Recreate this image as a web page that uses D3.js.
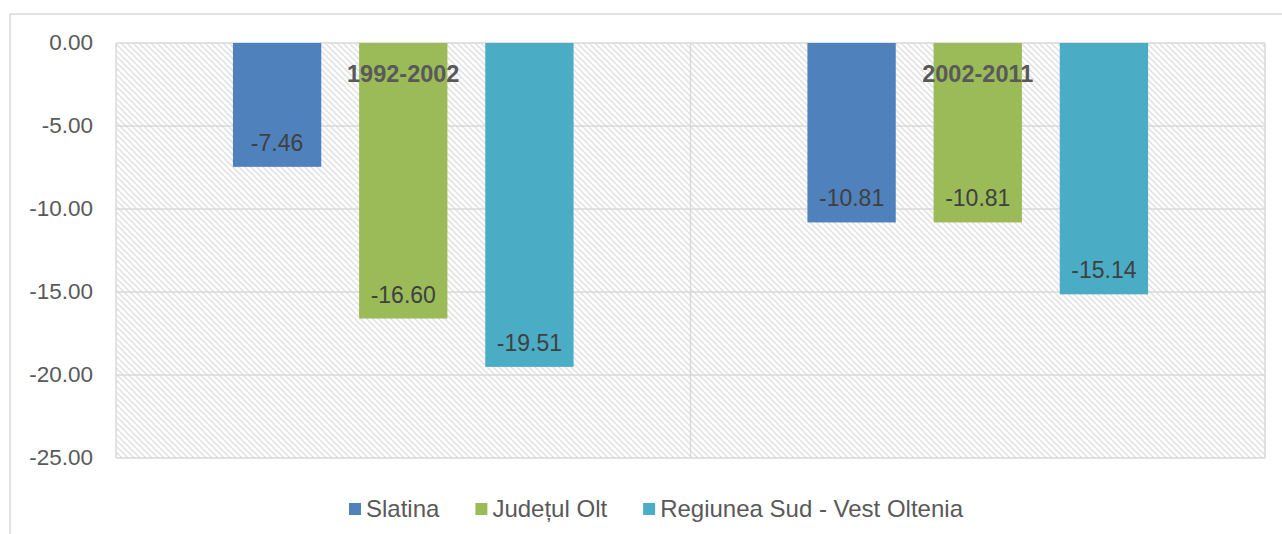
<!DOCTYPE html>
<html>
<head>
<meta charset="utf-8">
<script src="https://cdn.jsdelivr.net/npm/d3@7"></script>
<style>
  body { margin: 0; background: #fff; }
  text { font-family: "Liberation Sans", Arial, sans-serif; }
</style>
</head>
<body>
<div id="chart"></div>
<script>
var width = 1282,
    height = 534;

// datos
var periods = ["1992-2002", "2002-2011"];
var series = ["Slatina", "Județul Olt", "Regiunea Sud - Vest Oltenia"];
var slatina = [-7.46, -10.81];
var judet = [-16.60, -10.81];
var regiune = [-19.51, -15.14];
var yTicks = [0, -5, -10, -15, -20, -25];
var colors = ["#4f81bd", "#9bbb59", "#4bacc6"];

var values = [slatina, judet, regiune];

var plot = { left: 116, right: 1265, top: 43, bottom: 458 };

var svg = d3.select("#chart").append("svg")
    .attr("width", width)
    .attr("height", height);

// patron rayado de fondo
var defs = svg.append("defs");
var pat = defs.append("pattern")
    .attr("id", "hatch")
    .attr("patternUnits", "userSpaceOnUse")
    .attr("width", 6).attr("height", 6);
pat.append("rect").attr("width", 6).attr("height", 6).attr("fill", "#fff");
pat.append("path")
    .attr("d", "M-1,-1L7,7M-4,2L1,7M5,-1L7,1")
    .attr("stroke", "#e0e0e0")
    .attr("stroke-width", 1.5);

// marco exterior
svg.append("rect")
    .attr("x", 10).attr("y", 14)
    .attr("width", 1290).attr("height", 540)
    .attr("fill", "none")
    .attr("stroke", "#d9d9d9")
    .attr("stroke-width", 1.5);

var x0 = d3.scaleBand()
    .domain(periods)
    .range([plot.left, plot.right]);

var x1 = d3.scaleBand()
    .domain(series)
    .range([98, x0.bandwidth() - 98])
    .paddingInner(0.3)
    .paddingOuter(0.15);

var y = d3.scaleLinear()
    .domain([0, -25])
    .range([plot.top, plot.bottom]);

// fondo del area
svg.append("rect")
    .attr("x", plot.left).attr("y", plot.top)
    .attr("width", plot.right - plot.left)
    .attr("height", plot.bottom - plot.top)
    .attr("fill", "url(#hatch)");

// lineas de grilla
svg.append("g")
    .selectAll("line")
    .data(yTicks)
    .enter().append("line")
    .attr("x1", plot.left).attr("x2", plot.right)
    .attr("y1", d => y(d)).attr("y2", d => y(d))
    .attr("stroke", "#d9d9d9")
    .attr("stroke-width", 1.5);

// divisores verticales
svg.append("g")
    .selectAll("line")
    .data(periods.concat(["end"]))
    .enter().append("line")
    .attr("x1", (d, i) => i < periods.length ? x0(d) : plot.right)
    .attr("x2", (d, i) => i < periods.length ? x0(d) : plot.right)
    .attr("y1", plot.top).attr("y2", plot.bottom)
    .attr("stroke", "#d9d9d9")
    .attr("stroke-width", 1.5);

// eje y
var yAxis = svg.append("g")
    .attr("transform", "translate(" + plot.left + ",0)")
    .call(d3.axisLeft(y).tickValues(yTicks).tickSize(0).tickPadding(23)
        .tickFormat(d => d.toFixed(2)));
yAxis.select(".domain").remove();
yAxis.selectAll("text")
    .attr("fill", "#595959")
    .attr("font-family", null)
    .attr("font-size", null)
    .style("font-size", "22.5px")
    .attr("dy", "0.3em");
yAxis.attr("font-size", null).attr("font-family", null);

// barras
var groups = svg.append("g")
    .selectAll("g")
    .data(periods)
    .enter().append("g")
    .attr("transform", d => "translate(" + x0(d) + ",0)");

groups.selectAll("rect")
    .data((p, pi) => series.map((s, si) => ({ s: s, si: si, v: values[si][pi] })))
    .enter().append("rect")
    .attr("x", d => x1(d.s))
    .attr("width", x1.bandwidth())
    .attr("y", y(0))
    .attr("height", d => y(d.v) - y(0))
    .attr("fill", d => colors[d.si]);

// etiquetas de valores
groups.selectAll("text.val")
    .data((p, pi) => series.map((s, si) => ({ s: s, si: si, v: values[si][pi] })))
    .enter().append("text")
    .attr("class", "val")
    .attr("x", d => x1(d.s) + x1.bandwidth() / 2)
    .attr("y", d => y(d.v) - 16)
    .attr("text-anchor", "middle")
    .attr("fill", "#404040")
    .style("font-size", "23px")
    .text(d => d.v.toFixed(2));

// etiquetas de categoria
groups.append("text")
    .attr("x", x0.bandwidth() / 2)
    .attr("y", 82)
    .attr("text-anchor", "middle")
    .attr("fill", "#595959")
    .style("font-size", "23.5px")
    .style("font-weight", "bold")
    .text(d => d);

// leyenda
var legend = svg.append("g")
    .attr("transform", "translate(0,517)");
var items = legend.selectAll("g")
    .data(series)
    .enter().append("g");
items.append("rect")
    .attr("y", -14)
    .attr("width", 12).attr("height", 12)
    .attr("fill", (d, i) => colors[i]);
items.append("text")
    .attr("x", 17)
    .attr("fill", "#595959")
    .style("font-size", "24px")
    .text(d => d);

var lx = 0, pos = [];
items.each(function () {
    pos.push(lx);
    lx += 17 + d3.select(this).select("text").node().getComputedTextLength() + 36;
});
lx -= 36;
var startX = 656 - lx / 2;
items.attr("transform", (d, i) => "translate(" + (startX + pos[i]) + ",0)");
</script>
</body>
</html>
